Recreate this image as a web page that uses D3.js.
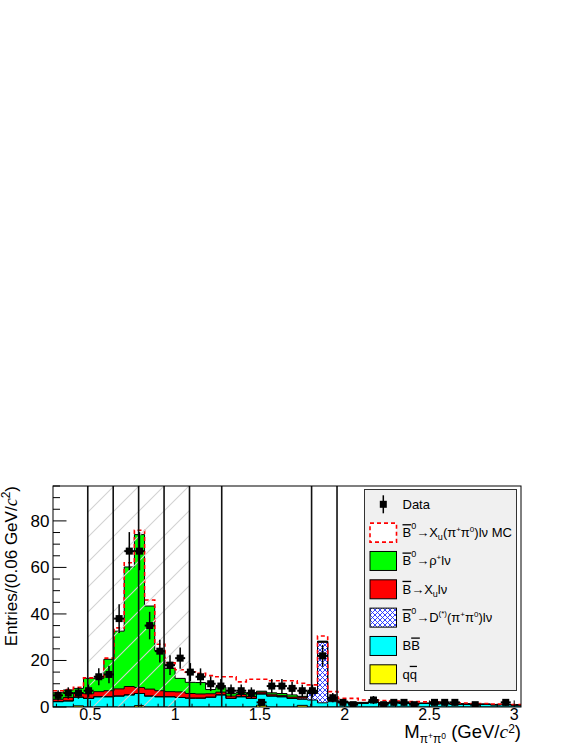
<!DOCTYPE html>
<html>
<head>
<meta charset="utf-8">
<title>M pi+ pi0</title>
<script src="https://d3js.org/d3.v7.min.js"></script>
<style>
  body { margin: 0; background: #fff; }
  svg { display: block; }
  text { font-family: "Liberation Sans", Arial, Helvetica, sans-serif; fill: #000; }
</style>
</head>
<body>
<div id="chart"></div>
<script>

/* --------------------
  data (46 bins of 0.06 GeV from 0.28 to 3.04)
-------------------- */

var binLow = 0.28, binWidth = 0.06;

var dataCounts = [5, 6, 6, 7, 13, 14, 38, 67, 67, 35, 24, 18, 21, 15, 13, 10, 9, 7, 7, 6,
                  2, 9, 9, 8, 7, 7, 22, 4, 2, 1, 0, 3, 1, 2, 2, 1, 0, 2, 2, 2,
                  0, 1, 0, 0, 2, 0];

var qqbar = [0, 0, 0.5, 0, 0, 0, 0, 0, 0.6, 0, 0, 0, 0, 0, 0, 0, 0, 0, 0, 0,
             0.8, 0, 0, 0, 0.7, 0, 0, 0, 0, 0, 0, 0, 0, 0, 0, 0, 0, 0, 0, 0,
             0, 0, 0, 0, 0, 0];

var bbbar = [2.3, 2.6, 3.7, 3.7, 4.4, 4.4, 4.7, 5.2, 5.2, 4.7, 4.4, 4.4, 4.1, 3.8, 3.8, 4.2, 5.2, 3.7, 4.4, 3.7,
             4.8, 4.7, 4.4, 3.7, 2.6, 3.0, 1.8, 2.3, 1.9, 1.6, 1.6, 2.0, 1.5, 1.8, 1.6, 1.4, 1.5, 1.3, 1.4, 1.2,
             1.2, 1.0, 1.1, 0.9, 1.0, 0.8];

var dstar = [0, 0, 0, 0, 0, 0, 0, 0, 0, 0, 0, 0, 0, 0, 0, 0, 0, 0, 0, 0,
             0, 0, 0, 0, 0.5, 2.8, 26, 0.5, 0, 0, 0, 0, 0, 0, 0, 0, 0, 0, 0, 0,
             0, 0, 0, 0, 0, 0];

var xulnu = [1.0, 1.5, 1.8, 2.0, 2.2, 2.6, 3.1, 3.6, 2.6, 3.0, 2.6, 2.2, 2.4, 2.0, 1.8, 1.5, 1.2, 1.0, 1.0, 0.8,
             0.8, 0.8, 0.6, 0.6, 0.5, 0.4, 0.3, 0.3, 0.3, 0.2, 0.2, 0.2, 0.2, 0.2, 0.2, 0.2, 0.1, 0.2, 0.1, 0.1,
             0.1, 0.1, 0.1, 0.1, 0.1, 0.1];

var rholnu = [2.8, 3.2, 2.0, 6.6, 5.7, 13.5, 24.8, 51.4, 65.7, 35.7, 17.2, 10.0, 5.8, 4.8, 4.9, 1.8, 2.1, 1.2, 0.8, 1.1,
              0.4, 0.6, 0.8, 0.9, 0.3, 0.6, 0.2, 0.4, 0.3, 0.2, 0.2, 0.2, 0.2, 0.1, 0.2, 0.1, 0.1, 0.1, 0.1, 0.1,
              0.1, 0.1, 0.1, 0.1, 0.1, 0.1];

var xuMC = [7.0, 7.5, 8.5, 12.5, 13.0, 21.0, 34.0, 62.0, 76.0, 46.0, 27.0, 19.0, 16.0, 15.0, 14.5, 13.5, 13.0, 13.0, 10.8, 11.9,
            11.9, 11.3, 11.3, 11.3, 10.2, 9.5, 30.5, 6.6, 3.7, 3.7, 3.0, 3.0, 2.8, 2.6, 2.6, 2.3, 2.2, 2.1, 1.9, 1.8,
            1.7, 1.5, 1.5, 1.3, 1.2, 1.1];

var cutLines = [0.485, 0.635, 0.785, 0.935, 1.085, 1.275, 1.805, 1.955];
var hatchRange = [0.485, 1.085];

var xTickLabels = [0.5, 1, 1.5, 2, 2.5, 3];
var yTickLabels = [0, 20, 40, 60, 80];

/* --------------------
  setup
-------------------- */

var width = 577, height = 747;
var frame = {left: 53, right: 521, top: 486, bottom: 707};

var svg = d3.select("#chart").append("svg")
    .attr("width", width)
    .attr("height", height);

var x = d3.scaleLinear()
    .domain([binLow, binLow + binWidth * dataCounts.length])
    .range([frame.left, frame.right]);

var y = d3.scaleLinear()
    .domain([0, 95])
    .range([frame.bottom, frame.top]);

var defs = svg.append("defs");

defs.append("clipPath").attr("id", "clip")
  .append("rect")
    .attr("x", frame.left).attr("y", frame.top)
    .attr("width", frame.right - frame.left)
    .attr("height", frame.bottom - frame.top);

/* blue cross hatch for the D(*) component */
var cross = defs.append("pattern")
    .attr("id", "cross")
    .attr("patternUnits", "userSpaceOnUse")
    .attr("width", 5).attr("height", 5);
cross.append("rect").attr("width", 5).attr("height", 5).attr("fill", "#fff");
cross.append("path")
    .attr("d", "M0,0L5,5M5,0L0,5")
    .attr("stroke", "#1f2fff").attr("stroke-width", 0.9);

/* light gray diagonal hatching */
var diag = defs.append("pattern")
    .attr("id", "diag")
    .attr("patternUnits", "userSpaceOnUse")
    .attr("width", 25).attr("height", 25);
diag.append("path")
    .attr("d", "M0,25L25,0M-5,5L5,-5M20,30L30,20")
    .attr("stroke", "#d2d2d2").attr("stroke-width", 1.1);

var plot = svg.append("g").attr("clip-path", "url(#clip)");

/* --------------------
  stacked histograms
-------------------- */

var stackOrder = [
  {vals: qqbar,  fill: "#ffff00"},
  {vals: bbbar,  fill: "#00ffff"},
  {vals: dstar,  fill: "url(#cross)"},
  {vals: xulnu,  fill: "#ff0000"},
  {vals: rholnu, fill: "#00ff00"}
];

function stepPoints(lower, upper) {
  var pts = [];
  for (var i = 0; i < upper.length; i++) {
    var lo = binLow + i * binWidth, hi = lo + binWidth;
    pts.push([lo, lower[i], upper[i]]);
    pts.push([hi, lower[i], upper[i]]);
  }
  return pts;
}

var area = d3.area()
    .x(function(d) { return x(d[0]); })
    .y0(function(d) { return y(d[1]); })
    .y1(function(d) { return y(d[2]); });

var topLine = d3.line()
    .x(function(d) { return x(d[0]); })
    .y(function(d) { return y(d[2]); });

var cum = dataCounts.map(function() { return 0; });
var layers = [];
stackOrder.forEach(function(s) {
  var next = cum.map(function(c, i) { return c + s.vals[i]; });
  layers.push({pts: stepPoints(cum, next), fill: s.fill});
  cum = next;
});

layers.forEach(function(l) {
  plot.append("path")
      .attr("d", area(l.pts))
      .attr("fill", l.fill);
});
layers.forEach(function(l) {
  plot.append("path")
      .attr("d", topLine(l.pts))
      .attr("fill", "none")
      .attr("stroke", "#000")
      .attr("stroke-width", 1);
});

/* red dashed MC */
var zeros = xuMC.map(function() { return 0; });
plot.append("path")
    .attr("d", topLine(stepPoints(zeros, xuMC)))
    .attr("fill", "none")
    .attr("stroke", "#ff0000")
    .attr("stroke-width", 1.6)
    .attr("stroke-dasharray", "4,3");

/* hatched band and vertical lines */
plot.append("rect")
    .attr("x", x(hatchRange[0]))
    .attr("y", frame.top)
    .attr("width", x(hatchRange[1]) - x(hatchRange[0]))
    .attr("height", frame.bottom - frame.top)
    .attr("fill", "url(#diag)");

plot.selectAll(".cut").data(cutLines).enter().append("line")
    .attr("class", "cut")
    .attr("x1", function(d) { return x(d); })
    .attr("x2", function(d) { return x(d); })
    .attr("y1", frame.top)
    .attr("y2", frame.bottom)
    .attr("stroke", "#111")
    .attr("stroke-width", 1.6);

/* --------------------
  data points
-------------------- */

var pts = dataCounts.map(function(n, i) {
  return {cx: binLow + (i + 0.5) * binWidth, n: n};
}).filter(function(d) { return d.n > 0; });

var gp = plot.append("g");
gp.selectAll(".err").data(pts).enter().append("line")
    .attr("x1", function(d) { return x(d.cx); })
    .attr("x2", function(d) { return x(d.cx); })
    .attr("y1", function(d) { return y(d.n + Math.sqrt(d.n)); })
    .attr("y2", function(d) { return y(Math.max(0, d.n - Math.sqrt(d.n))); })
    .attr("stroke", "#000").attr("stroke-width", 1.5);
gp.selectAll(".xerr").data(pts).enter().append("line")
    .attr("x1", function(d) { return x(d.cx) - 5; })
    .attr("x2", function(d) { return x(d.cx) + 5; })
    .attr("y1", function(d) { return y(d.n); })
    .attr("y2", function(d) { return y(d.n); })
    .attr("stroke", "#000").attr("stroke-width", 2);
gp.selectAll(".mk").data(pts).enter().append("rect")
    .attr("x", function(d) { return x(d.cx) - 3.5; })
    .attr("y", function(d) { return y(d.n) - 3.5; })
    .attr("width", 7).attr("height", 7)
    .attr("fill", "#000");

/* --------------------
  frame and axes
-------------------- */

svg.append("rect")
    .attr("x", frame.left).attr("y", frame.top)
    .attr("width", frame.right - frame.left)
    .attr("height", frame.bottom - frame.top)
    .attr("fill", "none").attr("stroke", "#000").attr("stroke-width", 1);

var yMinor = d3.range(0, 96, 5);
svg.selectAll(".ytick").data(yMinor).enter().append("line")
    .attr("x1", frame.left)
    .attr("x2", function(d) { return frame.left + (d % 20 === 0 ? 13.5 : 7); })
    .attr("y1", function(d) { return y(d); })
    .attr("y2", function(d) { return y(d); })
    .attr("stroke", "#000").attr("stroke-width", 1);

svg.selectAll(".ylab").data(yTickLabels).enter().append("text")
    .attr("x", 49.5)
    .attr("y", function(d) { return y(d) + 6; })
    .attr("text-anchor", "end")
    .style("font-size", "17px")
    .text(function(d) { return d; });

var xMinor = d3.range(3, 31).map(function(k) { return k / 10; });
svg.selectAll(".xtick").data(xMinor).enter().append("line")
    .attr("x1", function(d) { return x(d); })
    .attr("x2", function(d) { return x(d); })
    .attr("y1", frame.bottom)
    .attr("y2", function(d) { return frame.bottom - (Math.abs(d * 2 - Math.round(d * 2)) < 1e-6 ? 6.6 : 3.3); })
    .attr("stroke", "#000").attr("stroke-width", 1);

svg.selectAll(".xlab").data(xTickLabels).enter().append("text")
    .attr("x", function(d) { return x(d); })
    .attr("y", 719.5)
    .attr("text-anchor", "middle")
    .style("font-size", "16px")
    .text(function(d) { return d; });

/* rich text helper: parts = [text, offset, size, italic, overline] */
function rich(t, parts, baseSize) {
  var prev = 0;
  parts.forEach(function(p) {
    var off = p[1] || 0;
    var ts = t.append("tspan")
        .attr("dy", off - prev)
        .style("font-size", (p[2] || baseSize) + "px")
        .text(p[0]);
    if (p[3]) ts.style("font-style", "italic").style("font-family", "'Liberation Serif', 'DejaVu Serif', serif");
    if (p[4]) ts.style("text-decoration", "overline");
    prev = off;
  });
}

/* y title */
var yt = svg.append("text")
    .attr("transform", "translate(17,486) rotate(-90)")
    .attr("text-anchor", "end")
    .style("font-size", "17px");
rich(yt, [["Entries/(0.06 GeV/"], ["c", 0, 18, true], ["2", -7, 12], [")", 0]], 17);

/* x title */
var xt = svg.append("text")
    .attr("x", 521)
    .attr("y", 738)
    .attr("text-anchor", "end")
    .style("font-size", "18.5px");
rich(xt, [["M"], ["π", 5, 12], ["+", 1, 8.5], ["π", 5, 12], ["0", 1, 8.5], [" (GeV/", 0], ["c", 0, 19.5, true], ["2", -5.5, 12], [")", 0]], 18.5);

/* --------------------
  legend
-------------------- */

var legend = svg.append("g");
legend.append("rect")
    .attr("x", 364.5).attr("y", 489.5)
    .attr("width", 152).attr("height", 201)
    .attr("fill", "#f0f0f0")
    .attr("stroke", "#333").attr("stroke-width", 1);

var legendEntries = [
  {fill: null, parts: [["Data"]]},
  {fill: "#fff", dashed: true, parts: [["B", 0, 13, false, true], ["0", -8, 9], ["→X", 0], ["u", 3, 9], ["(π", 0], ["+", -5, 8], ["π", 0], ["0", -5, 8], [")lν MC", 0]]},
  {fill: "#00ff00", parts: [["B", 0, 13, false, true], ["0", -8, 9], ["→ρ", 0], ["+", -5, 8], ["lν", 0]]},
  {fill: "#ff0000", parts: [["B", 0, 13, false, true], ["→X", 0], ["u", 3, 9], ["lν", 0]]},
  {fill: "url(#cross)", parts: [["B", 0, 13, false, true], ["0", -8, 9], ["→D", 0], ["(*)", -6, 8], ["(π", 0], ["+", -5, 8], ["π", 0], ["0", -5, 8], [")lν", 0]]},
  {fill: "#00ffff", parts: [["B"], ["B", 0, 13, false, true]]},
  {fill: "#ffff00", parts: [["q"], ["q", 0, 13, false, true]]}
];

var rowY = d3.scaleLinear().domain([0, 6]).range([504.3, 674.3]);

legendEntries.forEach(function(e, i) {
  var cy = rowY(i);
  if (e.fill === null) {
    legend.append("line")
        .attr("x1", 383.3).attr("x2", 383.3)
        .attr("y1", cy - 9).attr("y2", cy + 9)
        .attr("stroke", "#000").attr("stroke-width", 1.5);
    legend.append("rect")
        .attr("x", 383.3 - 3.5).attr("y", cy - 3.5)
        .attr("width", 7).attr("height", 7)
        .attr("fill", "#000");
  } else {
    legend.append("rect")
        .attr("x", 370).attr("y", cy - 9.5)
        .attr("width", 26.5).attr("height", 19)
        .attr("fill", e.fill)
        .attr("stroke", e.dashed ? "#ff0000" : "#000")
        .attr("stroke-width", e.dashed ? 1.6 : 1)
        .attr("stroke-dasharray", e.dashed ? "4,3" : null);
  }
  var t = legend.append("text")
      .attr("x", 402.5)
      .attr("y", cy + 4.5)
      .style("font-size", "13px");
  rich(t, e.parts, 13);
});

</script>
</body>
</html>
